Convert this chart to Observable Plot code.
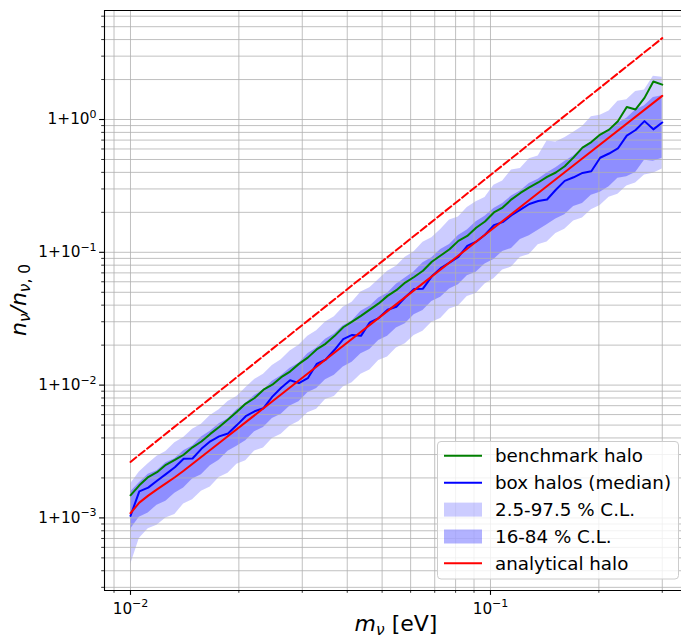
<!DOCTYPE html>
<html><head><meta charset="utf-8">
<script src="https://cdn.jsdelivr.net/npm/d3@7"></script>
<script src="https://cdn.jsdelivr.net/npm/@observablehq/plot@0.6"></script>
<style>body{margin:0;background:#fff} svg{display:block}</style>
</head><body><div id="chart"></div>
<script>
// neutrino mass (eV)
const mass = [0.01, 0.01058, 0.01120, 0.01185, 0.01254, 0.01328, 0.01405, 0.01487, 0.01574, 0.01666,
 0.01763, 0.01866, 0.01975, 0.02090, 0.02212, 0.02341, 0.02478, 0.02622, 0.02775, 0.02937,
 0.03108, 0.03289, 0.03481, 0.03684, 0.03899, 0.04127, 0.04367, 0.04622, 0.04892, 0.05177,
 0.05477, 0.05797, 0.06135, 0.06493, 0.06871, 0.07272, 0.07696, 0.08145, 0.08620, 0.09123,
 0.09655, 0.1022, 0.1081, 0.1144, 0.1211, 0.1282, 0.1357, 0.1436, 0.1519, 0.1608,
 0.1702, 0.1801, 0.1906, 0.2017, 0.2135, 0.2259, 0.2391, 0.2530, 0.2678, 0.2834, 0.3000];
// n/n0 - 1 values
const benchmark = [1.48e-3, 1.76e-3, 2.03e-3, 2.21e-3, 2.51e-3, 2.73e-3, 2.99e-3, 3.40e-3, 3.76e-3, 4.29e-3,
 4.83e-3, 5.50e-3, 6.29e-3, 7.26e-3, 8.00e-3, 9.24e-3, 1.007e-2, 1.148e-2, 1.265e-2, 1.445e-2,
 1.610e-2, 1.857e-2, 2.046e-2, 2.339e-2, 2.728e-2, 3.006e-2, 3.319e-2, 3.698e-2, 4.121e-2, 4.698e-2,
 5.188e-2, 5.915e-2, 6.515e-2, 7.260e-2, 8.491e-2, 9.461e-2, 0.1054, 0.1219, 0.1328, 0.1531,
 0.1706, 0.1995, 0.2173, 0.2505, 0.2799, 0.3082, 0.3356, 0.3697, 0.3990, 0.4446,
 0.5188, 0.6138, 0.6761, 0.7709, 0.8395, 0.9705, 1.242, 1.191, 1.455, 1.932, 1.832];
const median = [1.035e-3, 1.585e-3, 1.690e-3, 1.905e-3, 2.138e-3, 2.404e-3, 2.786e-3, 2.799e-3, 3.311e-3, 3.776e-3,
 4.111e-3, 4.325e-3, 5.000e-3, 5.834e-3, 6.353e-3, 6.699e-3, 8.185e-3, 9.550e-3, 1.089e-2, 1.035e-2,
 1.127e-2, 1.442e-2, 1.552e-2, 1.837e-2, 2.218e-2, 2.388e-2, 2.350e-2, 2.972e-2, 3.199e-2, 3.690e-2,
 3.890e-2, 4.592e-2, 5.297e-2, 5.321e-2, 6.592e-2, 7.603e-2, 8.375e-2, 9.247e-2, 0.1117, 0.1202,
 0.1355, 0.1603, 0.1687, 0.1901, 0.2099, 0.2312, 0.2432, 0.2500, 0.2958, 0.3451,
 0.3673, 0.3963, 0.4074, 0.5152, 0.5546, 0.6053, 0.7568, 0.8337, 0.9727, 0.8433, 0.9506];
const lo95 = [4.416e-4, 6.998e-4, 8.279e-4, 8.810e-4, 1.000e-3, 1.062e-3, 1.274e-3, 1.371e-3, 1.585e-3, 1.706e-3,
 2.014e-3, 2.168e-3, 2.535e-3, 2.698e-3, 3.184e-3, 3.357e-3, 3.963e-3, 4.266e-3, 4.920e-3, 5.309e-3,
 6.194e-3, 6.592e-3, 7.780e-3, 8.204e-3, 9.683e-3, 1.042e-2, 1.205e-2, 1.297e-2, 1.531e-2, 1.629e-2,
 1.905e-2, 2.051e-2, 2.366e-2, 2.547e-2, 2.979e-2, 3.170e-2, 3.741e-2, 3.945e-2, 4.656e-2, 4.898e-2,
 5.781e-2, 6.310e-2, 7.362e-2, 7.745e-2, 9.162e-2, 9.638e-2, 0.1138, 0.1197, 0.1384, 0.1489,
 0.1718, 0.1811, 0.2089, 0.2249, 0.2594, 0.2735, 0.3155, 0.3319, 0.3828, 0.3945, 0.4246];
const hi95 = [1.799e-3, 2.213e-3, 2.559e-3, 2.917e-3, 3.162e-3, 3.681e-3, 4.027e-3, 4.645e-3, 5.070e-3, 5.916e-3,
 6.516e-3, 7.516e-3, 8.204e-3, 9.572e-3, 1.104e-2, 1.205e-2, 1.406e-2, 1.549e-2, 1.807e-2, 1.995e-2,
 2.328e-2, 2.564e-2, 2.992e-2, 3.266e-2, 3.855e-2, 4.198e-2, 5.023e-2, 5.408e-2, 6.237e-2, 7.194e-2,
 7.852e-2, 9.162e-2, 0.1009, 0.1191, 0.1285, 0.1483, 0.1750, 0.1845, 0.2178, 0.2399,
 0.2582, 0.3199, 0.3443, 0.4159, 0.4285, 0.5058, 0.5321, 0.6887, 0.6776, 0.7295,
 0.8035, 0.8872, 1.047, 1.076, 1.159, 1.371, 1.409, 1.626, 1.671, 2.118, 2.080];
const lo68 = [8.222e-4, 1.012e-3, 1.091e-3, 1.245e-3, 1.334e-3, 1.535e-3, 1.679e-3, 1.959e-3, 2.113e-3, 2.466e-3,
 2.716e-3, 3.170e-3, 3.459e-3, 3.811e-3, 4.446e-3, 4.797e-3, 5.598e-3, 6.026e-3, 6.950e-3, 7.499e-3,
 8.750e-3, 9.419e-3, 1.099e-2, 1.186e-2, 1.368e-2, 1.489e-2, 1.722e-2, 1.854e-2, 2.163e-2, 2.328e-2,
 2.692e-2, 2.897e-2, 3.381e-2, 3.639e-2, 4.256e-2, 4.581e-2, 5.284e-2, 5.702e-2, 6.653e-2, 7.079e-2,
 8.166e-2, 8.810e-2, 0.1016, 0.1069, 0.1250, 0.1330, 0.1466, 0.1614, 0.1782, 0.1919,
 0.2213, 0.2333, 0.2692, 0.2831, 0.3119, 0.3606, 0.3707, 0.3990, 0.4932, 0.4853, 0.5105];
const hi68 = [1.567e-3, 1.841e-3, 2.128e-3, 2.265e-3, 2.600e-3, 2.793e-3, 3.199e-3, 3.483e-3, 4.074e-3, 4.487e-3,
 5.117e-3, 5.572e-3, 6.516e-3, 7.261e-3, 8.375e-3, 9.141e-3, 1.067e-2, 1.175e-2, 1.340e-2, 1.462e-2,
 1.726e-2, 1.901e-2, 2.218e-2, 2.421e-2, 2.793e-2, 3.041e-2, 3.597e-2, 3.917e-2, 4.519e-2, 4.920e-2,
 5.754e-2, 6.412e-2, 7.145e-2, 8.337e-2, 9.099e-2, 0.1050, 0.1143, 0.1337, 0.1472, 0.1698,
 0.1871, 0.2138, 0.2328, 0.2655, 0.2897, 0.3304, 0.3556, 0.3963, 0.4325, 0.4819,
 0.5309, 0.6067, 0.6607, 0.7534, 0.8204, 0.9376, 1.021, 1.178, 1.268, 1.466, 1.507];
const analyticMass = [0.01, 0.01058, 0.0112, 0.01185, 0.01254, 0.01328, 0.01405, 0.01763, 0.03108, 0.05477, 0.09655, 0.1702, 0.3];
const analyticVal = [1.084e-3, 1.303e-3, 1.472e-3, 1.641e-3, 1.820e-3, 2.023e-3, 2.265e-3, 3.664e-3, 1.222e-2, 4.074e-2, 0.1355, 0.4519, 1.507];
const dashedMass = [0.01, 0.03, 0.1, 0.3];
const dashedVal = [2.64e-3, 2.83e-2, 0.382, 4.10];

const majorX = [0.01, 0.1];
const xTickLabels = ["10^\u22122", "10^\u22121"];
const minorX = [0.009, 0.02, 0.03, 0.04, 0.05, 0.06, 0.07, 0.08, 0.09, 0.2, 0.3];
const majorY = [1e-3, 1e-2, 1e-1, 1];
const yTickLabels = ["1+10^\u22123", "1+10^\u22122", "1+10^\u22121", "1+10^0"];
const minorY = [3e-4, 4e-4, 5e-4, 6e-4, 7e-4, 8e-4, 9e-4, 2e-3, 3e-3, 4e-3, 5e-3, 6e-3, 7e-3, 8e-3, 9e-3,
 0.02, 0.03, 0.04, 0.05, 0.06, 0.07, 0.08, 0.09, 0.2, 0.3, 0.4, 0.5, 0.6, 0.7, 0.8, 0.9, 2, 3, 4, 5, 6];
const legendLabels = ["benchmark halo", "box halos (median)", "2.5-97.5 % C.L.", "16-84 % C.L.", "analytical halo"];

const rows = mass.map((m, i) => ({m, green: benchmark[i], blue: median[i], lo95: lo95[i], hi95: hi95[i], lo68: lo68[i], hi68: hi68[i]}));
const analyticRows = analyticMass.map((m, i) => ({m, v: analyticVal[i]}));
const dashedRows = dashedMass.map((m, i) => ({m, v: dashedVal[i]}));

const xDomain = [0.008468, 0.3393];
const yDomain = [2.840e-4, 6.621];
const gridStyle = {stroke: "#b0b0b0", strokeWidth: 0.8, strokeOpacity: 1};

const chart = Plot.plot({
  width: 681, height: 639,
  marginLeft: 104, marginRight: 0, marginTop: 10, marginBottom: 49,
  style: {fontFamily: "'DejaVu Sans', sans-serif", fontSize: "15.3px", color: "black", background: "white", overflow: "visible"},
  x: {type: "log", domain: xDomain, label: null},
  y: {type: "log", domain: yDomain, label: null},
  marks: [
    Plot.areaY(rows, {x: "m", y1: "lo95", y2: "hi95", fill: "blue", fillOpacity: 0.2}),
    Plot.areaY(rows, {x: "m", y1: "lo68", y2: "hi68", fill: "blue", fillOpacity: 0.3}),
    Plot.gridX([...majorX, ...minorX], gridStyle),
    Plot.gridY([...majorY, ...minorY], gridStyle),
    Plot.line(rows, {x: "m", y: "green", stroke: "green", strokeWidth: 2, strokeLinejoin: "round"}),
    Plot.line(rows, {x: "m", y: "blue", stroke: "blue", strokeWidth: 2, strokeLinejoin: "round"}),
    Plot.line(analyticRows, {x: "m", y: "v", stroke: "red", strokeWidth: 2}),
    Plot.line(dashedRows, {x: "m", y: "v", stroke: "red", strokeWidth: 2, strokeDasharray: "7.4,3.2"}),
    Plot.ruleX([xDomain[0]], {stroke: "black", strokeWidth: 1.1}),
    Plot.ruleY([yDomain[0], yDomain[1]], {stroke: "black", strokeWidth: 1.1}),
    Plot.axisX({ticks: majorX, anchor: "bottom", tickSize: 4.9, tickPadding: 7.5, strokeWidth: 1.1, fontSize: 15.3,
      tickFormat: d => xTickLabels[majorX.indexOf(d)], label: null}),
    Plot.axisX({ticks: minorX, anchor: "bottom", tickSize: 2.8, strokeWidth: 0.8, tickFormat: () => "", label: null}),
    Plot.axisY({ticks: majorY, anchor: "left", tickSize: 4.9, tickPadding: 3, strokeWidth: 1.1, fontSize: 15.3,
      tickFormat: d => yTickLabels[majorY.indexOf(d)], label: null}),
    Plot.axisY({ticks: minorY, anchor: "left", tickSize: 2.8, strokeWidth: 0.8, tickFormat: () => "", label: null})
  ]
});
document.getElementById("chart").appendChild(chart);

const svg = d3.select(chart);
// superscript tick labels
svg.selectAll("text").each(function () {
  const s = this.textContent;
  if (!s.includes("^")) return;
  const [b, e] = s.split("^");
  const t = d3.select(this);
  t.text(null);
  t.append("tspan").text(b);
  t.append("tspan").attr("dy", -6.5).attr("font-size", 11).text(e);
});

const FONT = "'DejaVu Sans', sans-serif";
// x label
const xl = svg.append("text").attr("x", 396).attr("y", 630.5).attr("text-anchor", "middle")
  .attr("font-family", FONT).attr("font-size", 22).attr("fill", "black");
xl.append("tspan").attr("font-style", "italic").text("m");
xl.append("tspan").attr("font-style", "italic").attr("font-size", 15.4).attr("dy", 4).text("\u03bd");
xl.append("tspan").attr("dy", -4).text(" [eV]");
// y label
const yl = svg.append("text").attr("transform", "translate(25.5,300) rotate(-90)").attr("text-anchor", "middle")
  .attr("font-family", FONT).attr("font-size", 22).attr("fill", "black");
yl.append("tspan").attr("font-style", "italic").text("n");
yl.append("tspan").attr("font-style", "italic").attr("font-size", 15.4).attr("dy", 4.6).text("\u03bd");
yl.append("tspan").attr("font-style", "italic").attr("dy", -4.6).text("/n");
yl.append("tspan").attr("font-style", "italic").attr("font-size", 15.4).attr("dy", 4.6).text("\u03bd");
yl.append("tspan").attr("font-size", 15.4).text(", 0");

// legend
const lg = svg.append("g").attr("text-anchor", "start");
lg.append("rect").attr("x", 437.5).attr("y", 441.5).attr("width", 241).attr("height", 137.5).attr("rx", 3.5)
  .attr("fill", "white").attr("fill-opacity", 0.8).attr("stroke", "#cccccc").attr("stroke-width", 1);
const rowY = [455.7, 482.7, 509.6, 536.5, 563.3];
const handles = [{t: "line", c: "green"}, {t: "line", c: "blue"}, {t: "patch", o: 0.2}, {t: "patch", o: 0.3}, {t: "line", c: "red"}];
handles.forEach((h, i) => {
  const y = rowY[i];
  if (h.t === "line") {
    lg.append("line").attr("x1", 444).attr("x2", 482).attr("y1", y).attr("y2", y).attr("stroke", h.c).attr("stroke-width", 2);
  } else {
    lg.append("rect").attr("x", 444).attr("y", y - 7).attr("width", 38).attr("height", 14).attr("fill", "blue").attr("fill-opacity", h.o);
  }
  lg.append("text").attr("x", 495).attr("y", y + 6.6).attr("text-anchor", "start").attr("font-family", FONT).attr("font-size", 18.3)
    .attr("fill", "black").text(legendLabels[i]);
});
</script>
</body></html>
